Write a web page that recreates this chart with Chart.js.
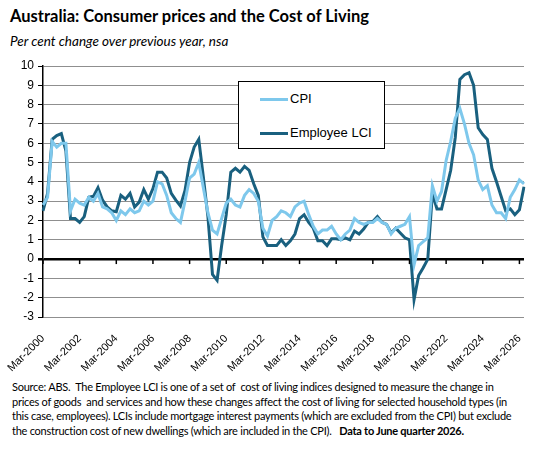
<!DOCTYPE html>
<html>
<head>
<meta charset="utf-8">
<script src="https://cdn.jsdelivr.net/npm/chart.js@4.4.1/dist/chart.umd.min.js"></script>
<style>
  body { margin: 0; background: #fff; width: 548px; height: 454px; overflow: hidden; position: relative; font-family: 'Liberation Sans', Arial, sans-serif; }
  #title { position: absolute; left: 10px; top: 6px; font-family: Lato, sans-serif; font-weight: bold; font-size: 16.5px; color: #000; white-space: nowrap; }
  #subtitle { position: absolute; left: 10px; top: 33px; font-family: Lato, sans-serif; font-style: italic; font-size: 13.5px; color: #000; white-space: nowrap; }
  #wrap { position: absolute; left: 0; top: 52px; width: 548px; height: 323px; }
  #legend { position: absolute; left: 238px; top: 81px; width: 145px; height: 66px; border: 1px solid #000; background: #fff; font-size: 13px; }
  .item { position: absolute; left: 21px; height: 16px; white-space: nowrap; }
  .swatch { position: absolute; left: 0; top: 7px; width: 28px; height: 3px; }
  .item span { position: absolute; left: 30px; top: 0; }
  #note { position: absolute; left: 12px; top: 380px; font-family: Lato, sans-serif; font-size: 11px; letter-spacing: -0.25px; line-height: 14.6px; color: #000; white-space: nowrap; }
</style>
</head>
<body>
<div id="title">Australia: Consumer prices and the Cost of Living</div>
<div id="subtitle">Per cent change over previous year, nsa</div>
<div id="wrap"><canvas id="chart" width="548" height="323"></canvas></div>
<div id="legend">
  <div class="item" style="top:9px"><div class="swatch" id="sw0"></div><span>CPI</span></div>
  <div class="item" style="top:43px"><div class="swatch" id="sw1"></div><span>Employee LCI</span></div>
</div>
<div id="note">Source: ABS.&nbsp; The Employee LCI is one of a set of&nbsp; cost of living indices designed to measure the change in<br>prices of goods&nbsp; and services and how these changes affect the cost of living for selected household types (in<br>this case, employees). LCIs include mortgage interest payments (which are excluded from the CPI) but exclude<br>the construction cost of new dwellings (which are included in the CPI).&nbsp;&nbsp; <b>Data to June quarter 2026.</b></div>
<script>
// Quarterly, Mar-2000 to Jun-2026
const firstYear = 2000;
const lastYear = 2026;
const quarterNames = ['Mar', 'Jun', 'Sep', 'Dec'];

const cpi = [
  2.8, 3.2, 6.1, 5.8, 6.0, 6.0, 2.5, 3.1, 2.9, 2.8, 3.2, 3.0, 3.4, 2.7, 2.6, 2.4,
  2.0, 2.5, 2.3, 2.6, 2.4, 2.5, 3.0, 2.8, 3.0, 4.0, 3.9, 3.3, 2.4, 2.1, 1.9, 3.0,
  4.2, 4.4, 5.0, 3.7, 2.4, 1.5, 1.3, 2.1, 2.9, 3.1, 2.8, 2.7, 3.3, 3.6, 3.4, 3.0,
  1.6, 1.2, 2.0, 2.2, 2.5, 2.4, 2.2, 2.7, 2.9, 3.0, 2.3, 1.7, 1.3, 1.5, 1.5, 1.7,
  1.3, 1.0, 1.3, 1.5, 2.1, 1.9, 1.8, 1.9, 1.9, 2.1, 1.9, 1.8, 1.3, 1.6, 1.7, 1.8,
  2.2, -0.3, 0.7, 0.9, 1.1, 3.8, 3.0, 3.5, 5.1, 6.1, 7.3, 7.8, 7.0, 6.0, 5.4, 4.1,
  3.6, 3.8, 2.8, 2.4, 2.4, 2.1, 3.2, 3.6, 4.1, 3.9
];

const employeeLci = [
  2.5, 3.4, 6.2, 6.4, 6.5, 5.6, 2.1, 2.1, 1.9, 2.2, 3.2, 3.25, 3.7, 3.05, 2.7, 2.5,
  2.45, 3.3, 3.1, 3.4, 2.7, 2.95, 3.6, 3.1, 3.65, 4.5, 4.5, 4.2, 3.4, 3.05, 2.75, 3.55,
  5.0, 5.8, 6.2, 4.25, 2.2, -0.8, -1.1, 0.7, 2.3, 4.5, 4.7, 4.5, 4.8, 4.6, 3.9, 3.3,
  1.15, 0.7, 0.7, 0.7, 1.0, 0.7, 0.95, 1.3, 2.1, 2.3, 1.9, 1.6, 0.95, 0.95, 0.7, 1.05,
  1.05, 1.0, 1.1, 1.0, 1.45, 1.3, 1.55, 1.9, 1.95, 2.2, 1.9, 1.8, 1.35, 1.6, 1.35, 1.1,
  1.0, -2.1, -0.85, -0.45, 0.0, 3.4, 2.6, 2.6, 3.6, 4.6, 6.3, 9.3, 9.55, 9.65, 9.0, 6.8,
  6.45, 6.2, 4.7, 4.0, 3.25, 2.5, 2.6, 2.3, 2.55, 3.75
];

const cpiColor = '#7ec8ec';
const lciColor = '#19607f';

// build quarter labels
const labels = [];
for (let y = firstYear; y <= lastYear; y++) {
  quarterNames.forEach(q => labels.push(q + '-' + y));
}
labels.length = cpi.length;

document.getElementById('sw0').style.background = cpiColor;
document.getElementById('sw1').style.background = lciColor;

// little tick marks hanging from the zero line, like the Excel original
const zeroTicks = {
  id: 'zeroTicks',
  afterDatasetsDraw(chart) {
    const { ctx, scales: { x, y } } = chart;
    const y0 = y.getPixelForValue(0);
    ctx.save();
    ctx.strokeStyle = '#000';
    ctx.lineWidth = 1.5;
    x.ticks.forEach((t, k) => {
      if (t.label === null || t.label === undefined) return;
      const px = x.getPixelForTick(k);
      ctx.beginPath();
      ctx.moveTo(px, y0);
      ctx.lineTo(px, y0 + 5);
      ctx.stroke();
    });
    ctx.restore();
  }
};

Chart.defaults.font.family = "'Liberation Sans', Arial, sans-serif";
Chart.defaults.color = '#000';

new Chart(document.getElementById('chart').getContext('2d'), {
  type: 'line',
  data: {
    labels: labels,
    datasets: [{
      label: 'CPI',
      data: cpi,
      borderColor: cpiColor,
      borderWidth: 3,
      pointRadius: 0,
      tension: 0
    }, {
      label: 'Employee LCI',
      data: employeeLci,
      borderColor: lciColor,
      borderWidth: 3,
      pointRadius: 0,
      tension: 0
    }]
  },
  options: {
    responsive: false,
    animation: false,
    layout: { padding: { top: 14, right: 24, left: 0, bottom: 0 } },
    plugins: {
      legend: { display: false },
      tooltip: { enabled: false }
    },
    scales: {
      x: {
        grid: { display: false },
        border: { display: false },
        ticks: {
          autoSkip: false,
          maxRotation: 45,
          minRotation: 45,
          padding: 7,
          font: { size: 11 },
          callback: function (val, idx) {
            return idx % 8 === 0 ? this.getLabelForValue(val) : null;
          }
        },
        afterFit: s => { s.height = 58; }
      },
      y: {
        min: -3,
        max: 10,
        ticks: { stepSize: 1, padding: 4, font: { size: 12 } },
        border: { color: '#000', width: 1.5 },
        grid: {
          color: c => c.tick && c.tick.value === 0 ? '#000' : '#8f8f8f',
          lineWidth: c => c.tick && c.tick.value === 0 ? 2.5 : 1,
          tickColor: '#000',
          tickLength: 5
        },
        afterFit: s => { s.width = 43; }
      }
    }
  },
  plugins: [zeroTicks]
});
</script>
</body>
</html>
